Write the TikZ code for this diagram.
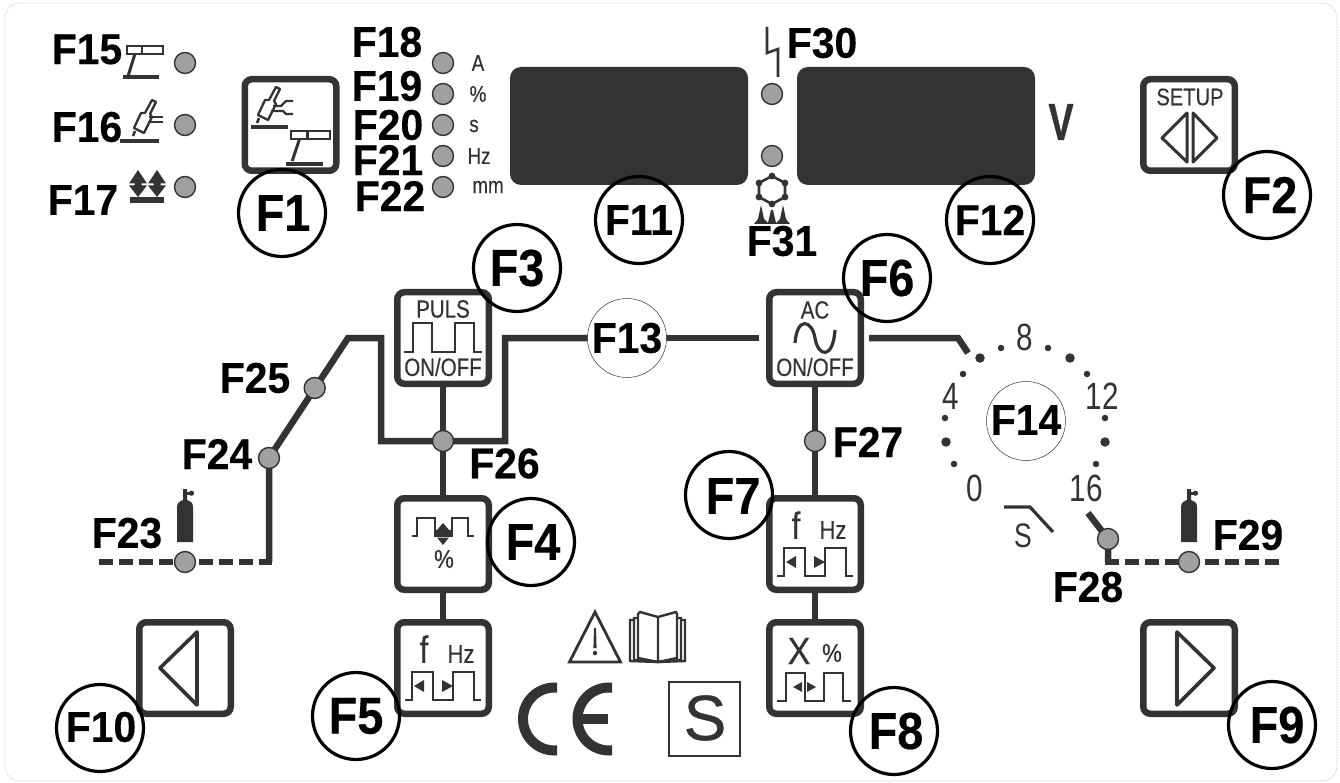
\documentclass[tikz,border=0pt]{standalone}
\usepackage{fontspec}
\setmainfont{Liberation Sans}
\definecolor{dk}{HTML}{333333}
\definecolor{ledg}{HTML}{A0A0A0}
\newcommand{\fs}[1]{\fontsize{#1}{#1}\selectfont}
\newcommand{\blk}{\bfseries\addfontfeature{FakeBold=.35}}
\newcommand{\gt}{\addfontfeature{FakeBold=.3}}
\tikzset{
  x=1pt,y=-1pt,
  btn/.style={draw=dk,line width=6.5pt,rounded corners=7pt,fill=white},
  led/.style={circle,draw=dk,line width=1.4pt,fill=ledg,minimum size=21pt,inner sep=0pt},
  cir/.style={circle,draw=black,line width=3.2pt,minimum size=87pt,inner sep=0pt},
  thincir/.style={circle,draw=dk,line width=.5pt,minimum size=79pt,inner sep=0pt,fill=white},
  lab/.style={inner sep=0pt,text=black,font=\fs{43}\blk,xscale=.95},
  blab/.style={inner sep=0pt,text=black,font=\fs{52}\blk,xscale=.9},
  unit/.style={inner sep=0pt,text=dk,font=\fs{23}\gt,xscale=.82},
  txt/.style={inner sep=0pt,text=dk,font=\fs{25}\gt,xscale=.82},
  wire/.style={draw=dk,line width=6.5pt},
  dashwire/.style={draw=dk,line width=6.5pt,dash pattern=on 14pt off 6pt},
  sym/.style={draw=dk,line width=2.6pt},
  dotS/.style={circle,fill=dk,minimum size=6.5pt,inner sep=0pt},
  dotB/.style={circle,fill=dk,minimum size=9.5pt,inner sep=0pt},
  disp/.style={fill=dk,rounded corners=11pt},
}
\newcommand{\tabl}[3]{%
 \begin{scope}[shift={(#1,#2)}]
  \draw[sym,fill=white] (0,0) rectangle (#3,8);
  \draw[sym] (#3*.42,0)--(#3*.42,8);
  \draw[draw=dk,line width=3pt] (#3*.22,8)--(#3*.03,30);
 \end{scope}}
\newcommand{\torch}[2]{%
 \begin{scope}[shift={(#1,#2)}]
  \draw[draw=dk,line width=2.3pt,fill=white,line join=round] (21,0)--(25,2)--(19,14)--(21,17)--(13,33)--(3,28)--(10,13)--(14,13)--cycle;
  \draw[draw=dk,line width=2.6pt] (4,31)--(2,36);
 \end{scope}}
\newcommand{\bottle}[2]{%
 \begin{scope}[shift={(#1,#2)}]
  \fill[dk] (0,53) -- (0,18) .. controls (0,13) and (4,12) .. (6,11) -- (6,0) -- (10,0) -- (10,11) .. controls (13,12) and (16,13) .. (16,18) -- (16,53) -- cycle;
  \fill[dk] (8,3) rectangle (13,5.5);
  \fill[dk] (14.5,4.2) circle (2.6);
 \end{scope}}
\newcommand{\freqpulse}[2]{%
 \begin{scope}[shift={(#1,#2)}]
  \draw[sym,line join=miter] (11,81)--(18,81)--(18,53)--(39,53)--(39,81)--(59,81)--(59,53)--(80,53)--(80,81)--(87,81);
  \fill[dk] (20,67)--(30,61)--(30,73)--cycle;
  \fill[dk] (48,61)--(59,67)--(48,73)--cycle;
  \node[inner sep=0pt,text=dk,font=\fs{38}\gt,xscale=.8] at (30,30) {f};
  \node[inner sep=0pt,text=dk,font=\fs{26}\gt,xscale=.85] at (67,35) {Hz};
 \end{scope}}
\begin{document}
\begin{tikzpicture}
\useasboundingbox (0,0) rectangle (1340,783);
\fill[white] (0,0) rectangle (1340,783);
\draw[draw=gray!60,line width=.6pt,densely dotted,rounded corners=15pt] (5,3) rectangle (1337,781);

% displays
\fill[disp] (510,67) rectangle (748,185);
\fill[disp] (797,67) rectangle (1035,185);

% buttons
\node[btn,minimum size=91.5pt] (b1) at (290.5,125) {};
\node[btn,minimum size=91.5pt] (b2) at (1189,125) {};
\node[btn,minimum size=91.5pt] (b9) at (1189,668) {};
\node[btn,minimum size=91.5pt] (b10) at (185,668) {};

% LEDs
\node[led] (l15) at (185,63) {};
\node[led] (l16) at (185,125) {};
\node[led] (l17) at (185,187) {};
\node[led] (l18) at (443,63) {};
\node[led] (l19) at (443,94) {};
\node[led] (l20) at (443,125) {};
\node[led] (l21) at (443,156) {};
\node[led] (l22) at (443,187) {};
\node[led] (l30) at (772,94) {};
\node[led] (l31) at (772,156) {};

% wires
\coordinate (dl) at (99,562);
\coordinate (c1) at (272,562);
\coordinate (c2) at (269,562);
\coordinate (p24) at (269,458);
\coordinate (a1) at (348,338);
\coordinate (a2) at (381,338);
\coordinate (a3) at (381,441);
\coordinate (a4) at (505,441);
\coordinate (a5) at (505,338);
\coordinate (w1) at (759,338);
\coordinate (w2) at (869,338);
\coordinate (r1) at (958,338);
\coordinate (r2) at (968,353);
\coordinate (q1) at (1088,513);
\coordinate (p28) at (1108,539);
\coordinate (q2) at (1108,562);
\coordinate (q0) at (1105,562);
\coordinate (q3) at (1279,562);
\coordinate (t3) at (443,338);
\coordinate (t4) at (443,544);
\coordinate (t5) at (443,668);
\coordinate (t6) at (815,338);
\coordinate (t7) at (815,544);
\coordinate (t8) at (815,668);
\coordinate (f13c) at (627,338);
\draw[dashwire] (dl)--(c1);
\draw[wire,line join=miter] (c2) -- (p24) -- (a1) -- (a2) -- (a3) -- (a4) -- (a5) -- (f13c);
\draw[wire] (f13c) -- (w1);
\draw[wire] (t3)--(t4);
\draw[wire] (t4)--(t5);
\draw[wire] (t6)--(t7);
\draw[wire] (t7)--(t8);
\draw[wire,line join=miter] (w2)--(r1)--(r2);
\draw[wire] (q1)--(p28)--(q2);
\draw[dashwire] (q0)--(q3);

% main column buttons on top of the wires
\node[btn,minimum size=91.5pt] (b3) at (t3) {};
\node[btn,minimum size=91.5pt] (b4) at (t4) {};
\node[btn,minimum size=91.5pt] (b5) at (t5) {};
\node[btn,minimum size=91.5pt] (b6) at (t6) {};
\node[btn,minimum size=91.5pt] (b7) at (t7) {};
\node[btn,minimum size=91.5pt] (b8) at (t8) {};
\node[thincir] (f13) at (f13c) {};

% wire LEDs
\node[led] (l23) at (185,562) {};
\node[led] (l24) at (p24) {};
\node[led] (l25) at (314.7,388) {};
\node[led] (l26) at (443,441) {};
\node[led] (l27) at (815,441) {};
\node[led] (l28) at (p28) {};
\node[led] (l29) at (1189,562) {};

% LED labels
\node[lab] at (87,49.5) {F15};
\node[lab] at (87,127) {F16};
\node[lab] at (83,200) {F17};
\node[lab] at (387,42) {F18};
\node[lab] at (387,86) {F19};
\node[lab] at (388,125) {F20};
\node[lab] at (388,160) {F21};
\node[lab] at (390,196) {F22};
\node[lab] at (822,43) {F30};
\node[lab] at (782,241) {F31};
\node[lab] at (127,533) {F23};
\node[lab] at (217,454) {F24};
\node[lab] at (255,378) {F25};
\node[lab] at (504.5,463.5) {F26};
\node[lab] at (868,442) {F27};
\node[lab] at (1088,587) {F28};
\node[lab] at (1248,535) {F29};

% circles
\node[cir] at (282,213) {}; \node[blab] at (283,213) {F1};
\node[cir] at (1267,195) {}; \node[blab] at (1270,195) {F2};
\node[cir] at (517,268) {}; \node[blab] at (517,268) {F3};
\node[cir] at (531,542) {}; \node[blab] at (533,542) {F4};
\node[cir] at (356,716) {}; \node[blab] at (356,716) {F5};
\node[cir] at (887,278) {}; \node[blab] at (887,278) {F6};
\node[cir] at (729,495) {}; \node[blab] at (733,496) {F7};
\node[cir] at (894,731) {}; \node[blab] at (896,731) {F8};
\node[cir] at (1272,725) {}; \node[blab] at (1277,725) {F9};
\node[cir] at (100,728) {}; \node[lab] at (101,727) {F10};
\node[cir] at (639,220) {}; \node[lab] at (639,220) {F11};
\node[cir] at (990,220) {}; \node[lab] at (990,220) {F12};
\node[lab] at (627,338) {F13};

% dial
\node[thincir] (f14) at (1026,421) {};
\node[lab] at (1026,420) {F14};
\foreach \x/\y in {1001/348,1048/348,1087/374,1105/418,1096/464,954/464,945/418,963/374}{\node[dotS] at (\x,\y) {};}
\foreach \x/\y in {980/358,1070/358,1105/442,946/442}{\node[dotB] at (\x,\y) {};}
\foreach \x/\y/\t in {1025/337/8,1102/396/12,951/396/4,975/488/0,1086/488/16}{\node[inner sep=0pt,text=dk,font=\fs{38},xscale=.78] at (\x,\y) {\t};}
\draw[draw=dk,line width=3.2pt] (1004,507)--(1030,507)--(1053,532);
\node[inner sep=0pt,text=dk,font=\fs{34},xscale=.78] at (1023,536) {S};

% units
\node[unit] at (478,63) {A};
\node[unit] at (478,94) {\%};
\node[unit] at (474,126) {s};
\node[unit] at (479,156) {Hz};
\node[unit] at (488,187) {mm};
\node[inner sep=0pt,text=dk,font=\fs{52}\blk\addfontfeature{FakeBold=1},xscale=.72] at (1061,122) {V};

% F15 / F16 / F17 symbols
\tabl{127}{46}{36}
\draw[draw=dk,line width=3.5pt] (123,77)--(159,77);
\torch{131}{100}
\draw[draw=dk,line width=2pt] (149,117)--(163,117) (148,122.5)--(163,122.5);
\draw[draw=dk,line width=4pt] (120,141)--(159,141);
\foreach \x in {138,157}{
  \fill[dk] (\x,170)--(\x+9,183.5)--(\x+3.5,183.5)--(\x+3.5,185.5)--(\x+9,185.5)--(\x,197)--(\x-9,185.5)--(\x-3.5,185.5)--(\x-3.5,183.5)--(\x-9,183.5)--cycle;
}
\fill[dk] (130,197) rectangle (164,203);

% F1 symbols
\torch{255}{87}
\draw[draw=dk,line width=2.2pt] (273,106)--(281,106)--(286,101)--(293,101) (271,111)--(283,111)--(286,114)--(293,114);
\draw[draw=dk,line width=3.2pt] (251,127)--(288,127);
\tabl{291}{131}{39}
\draw[draw=dk,line width=3.2pt] (286,164)--(323,164);

% F2 symbol
\node[inner sep=0pt,text=dk,font=\fs{24}\gt,xscale=.84] at (1190,97) {SETUP};
\draw[sym,line width=3pt,line join=round] (1187,113)--(1187,162)--(1162,138)--cycle;
\draw[sym,line width=3pt,line join=round] (1193,113)--(1193,162)--(1217,138)--cycle;

% F9 / F10 symbols
\draw[sym,line width=3.6pt,line join=round] (1177,632)--(1177,705)--(1214,668)--cycle;
\draw[sym,line width=3.6pt,line join=round] (197,632)--(197,705)--(160,668)--cycle;

% F3
\node[txt] at (443,309) {PULS};
\draw[sym,line join=miter] (404,352)--(413,352)--(413,323)--(432,323)--(432,352)--(455,352)--(455,323)--(474,323)--(474,352)--(482,352);
\node[txt] at (443,367) {ON/OFF};

% F6
\node[txt] at (815,310) {AC};
\draw[draw=dk,line width=3.2pt] (795,343) .. controls (797,316) and (812,320) .. (815,338) .. controls (818,357) and (833,360) .. (835,330);
\node[txt] at (815,367) {ON/OFF};

% F4
\draw[sym,line join=miter] (412,536)--(417,536)--(417,518)--(435,518)--(435,536)--(452,536)--(452,518)--(468,518)--(468,536)--(474,536);
\fill[dk] (443,523)--(449,530)--(437,530)--cycle;
\fill[dk] (435,530) rectangle (452,536);
\fill[dk] (437,537.5)--(449,537.5)--(443,545)--cycle;
\node[inner sep=0pt,text=dk,font=\fs{26}\gt,xscale=.85] at (444,559) {\%};

% F5, F7
\freqpulse{394}{619}
\freqpulse{766}{495}

% F8
\draw[sym,line join=miter] (777,701)--(786,701)--(786,673)--(805,673)--(805,701)--(824,701)--(824,673)--(843,673)--(843,701)--(851,701);
\fill[dk] (793,687)--(802,682)--(802,692)--cycle;
\fill[dk] (807,682)--(816,687)--(807,692)--cycle;
\node[inner sep=0pt,text=dk,font=\fs{38}\gt,xscale=.9] at (799,651) {X};
\node[inner sep=0pt,text=dk,font=\fs{26}\gt,xscale=.85] at (832,653) {\%};

% bottles
\bottle{177}{489}
\bottle{1181}{489}

% F30 symbol
\draw[sym,line join=miter] (767,27)--(767,53)--(778,49)--(778,77);

% F31 symbol
\begin{scope}[shift={(772,190)}]
 \draw[sym,line width=2.6pt] (0,-14)--(13,-7)--(13,7)--(0,14)--(-13,7)--(-13,-7)--cycle;
 \foreach \x/\y in {0/-14,13/-7,13/7,0/14,-13/7,-13/-7}{\fill[dk] (\x,\y) circle (3.4);}
 \fill[dk] (-18,34)--(-14,29)--(-11,15)--(-8,29)--(-4,33)--(-1,20)--(1,20)--(4,33)--(8,29)--(11,15)--(14,29)--(18,34)--cycle;
\end{scope}

% warning + book
\draw[draw=dk,line width=2.8pt,line join=miter] (595,612)--(620.5,662)--(569.5,662)--cycle;
\fill[dk] (594,628)--(596,628)--(596.6,648)--(593.4,648)--cycle;
\fill[dk] (595,653) circle (2.2);
\draw[draw=dk,line width=2.4pt,line join=miter] (658,617)--(640,612)--(638,614)--(638,658)--(658,662)--(677,658)--(677,614)--(676,612)--cycle (658,617)--(658,662);
\draw[draw=dk,line width=2.4pt] (638,618)--(634,618)--(634,660)--(658,662)--(681,660)--(681,618)--(677,618);
\draw[draw=dk,line width=2.4pt] (634,620)--(630,620)--(630,661)--(658,662)--(685,661)--(685,620)--(681,620);

% CE
\begin{scope}
 \clip (510,670) rectangle (557,770);
 \draw[draw=dk,line width=10pt] (554.5,719) circle [radius=31.5];
\end{scope}
\begin{scope}
 \clip (565,670) rectangle (612,770);
 \draw[draw=dk,line width=10pt] (609,719) circle [radius=31.5];
\end{scope}
\fill[dk] (580,713.5) rectangle (608,723.5);

% S square
\draw[draw=dk,line width=2.6pt] (669,682) rectangle (740,756);
\node[inner sep=0pt,text=dk,font=\fs{64}\addfontfeature{FakeBold=.6}] at (705,718) {S};
\end{tikzpicture}
\end{document}
